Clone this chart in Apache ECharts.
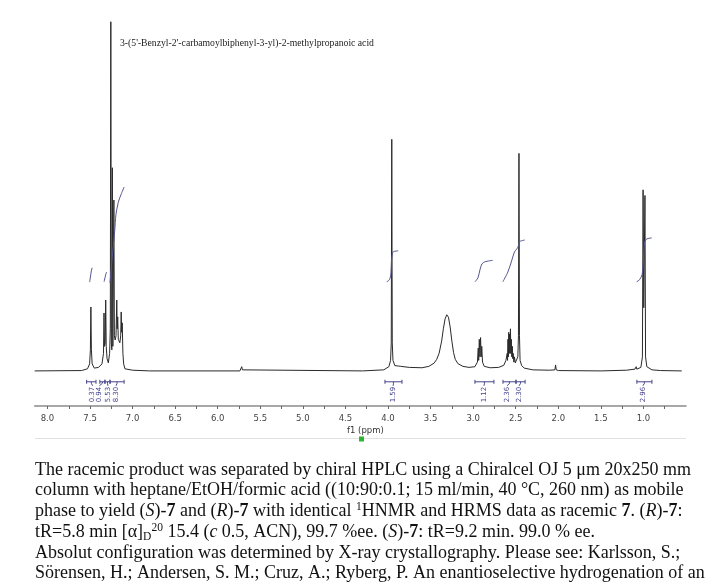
<!DOCTYPE html>
<html><head><meta charset="utf-8">
<script src="https://cdn.jsdelivr.net/npm/echarts@6/dist/echarts.min.js"></script>
<style>html,body{margin:0;padding:0;background:#fff}#c{width:719px;height:588px}</style>
</head><body><div id="c"></div>
<script>
// ---- data (ppm, intensity) ----
const spectrum = [
[8.15,0],[7.60,0.1],[7.53,0.6],[7.505,2],[7.496,6],[7.490,18.2],[7.484,6],[7.475,2],[7.45,0.8],[7.40,1.0],[7.36,2],
[7.342,5],[7.336,16.5],[7.330,7],[7.322,8],[7.316,20.2],[7.310,7],[7.30,3.5],[7.285,2.3],[7.27,5],[7.262,12],[7.256,99.5],
[7.250,8],[7.244,6],[7.238,57.9],[7.232,7],[7.226,6.5],[7.220,48.7],[7.214,10],[7.205,8.8],[7.195,10],[7.186,20.2],[7.181,12],
[7.175,15.4],[7.168,9],[7.150,8],[7.140,10],[7.134,16.8],[7.128,11],[7.122,13.7],[7.114,5],[7.105,2],[7.09,0.6],[7.0,0.2],
[6.8,0],[5.74,0],[5.725,0.3],[5.718,1.2],[5.711,0.3],[5.70,0],[4.3,0],[4.05,0.3],[3.99,1.2],[3.97,3],[3.962,8],[3.956,66],
[3.950,8],[3.942,3],[3.92,1.5],[3.88,1.4],[3.865,1.9],[3.85,1.3],[3.75,1.0],[3.6,0.9],[3.52,1.3],[3.46,2.2],[3.43,3.2],
[3.40,5.0],[3.37,8.5],[3.35,12],[3.33,14.8],[3.31,16],[3.29,15.3],[3.27,12.5],[3.25,8.5],[3.23,5.2],[3.21,3.3],[3.18,2.1],
[3.12,1.3],[3.05,1.0],[2.98,1.2],[2.95,2.5],[2.940,6.5],[2.935,3],[2.928,9],[2.920,4],[2.913,9.5],[2.906,4],[2.899,7],
[2.89,2.5],[2.87,1.3],[2.80,0.9],[2.70,1.0],[2.64,1.6],[2.615,3],[2.600,5],[2.596,3],[2.591,9],[2.586,4],[2.582,11],[2.577,5],
[2.573,10.5],[2.567,5],[2.562,12],[2.557,5],[2.552,9],[2.546,4],[2.540,7],[2.535,3.5],[2.530,5],[2.522,2.5],[2.515,4],
[2.505,2.3],[2.49,2.5],[2.475,4],[2.468,10],[2.462,62],[2.456,10],[2.449,3],[2.43,1.5],[2.40,0.8],[2.30,0.3],[2.10,0.2],
[2.04,0.3],[2.032,1.7],[2.024,0.3],[2.0,0.1],[1.5,0],[1.2,0.2],[1.10,0.5],[1.085,1.2],[1.078,0.5],[1.03,1],[1.012,4],
[1.004,51.6],[0.996,18],[0.990,18],[0.982,50],[0.975,4],[0.96,1.2],[0.90,0.3],[0.80,0.1],[0.55,0]
];
const integral1 = [[7.505,25.3],[7.497,26.5],[7.485,28.5],[7.475,29.4]];
const integral2 = [[7.335,25.4],[7.325,26.5],[7.315,27.5],[7.305,28.2]];
const integral3 = [[7.266,25.1],[7.250,29.5],[7.231,34.5],[7.210,40],[7.196,44.5],[7.175,47.3],[7.160,48.7],[7.137,50.2],[7.10,52.4]];
const integral4 = [[4.016,25.4],[3.990,25.8],[3.975,26.5],[3.965,28],[3.960,31],[3.950,33.3],[3.935,34.0],[3.88,34.2]];
const integral5 = [[2.979,25.4],[2.944,26.5],[2.920,28.8],[2.897,30.5],[2.862,31.1],[2.77,31.5]];
const integral6 = [[2.651,25.4],[2.592,28.2],[2.545,31.6],[2.515,33.9],[2.486,34.8],[2.469,35.6],[2.457,36.8],[2.428,37.1],[2.393,37.3]];
const integral7 = [[1.080,25.4],[1.045,26.0],[1.015,27.5],[1.004,30],[0.995,34],[0.985,36.8],[0.960,37.6],[0.903,37.9]];
// brackets: start ppm, end ppm, label ppm, label
const bracketStart = [7.54, 7.385, 7.325, 7.265, 4.036, 2.979, 2.650, 2.497, 1.077];
const bracketEnd   = [7.43, 7.325, 7.265, 7.100, 3.836, 2.756, 2.497, 2.390, 0.900];
const bracketLabelAt = [7.47, 7.39, 7.29, 7.195, 3.94, 2.873, 2.60, 2.46, 1.006];
const bracketLabels = ['0.37','0.94','5.53','8.30','1.59','1.12','2.36','2.30','2.96'];
const xTickLabels = ['8.0','7.5','7.0','6.5','6.0','5.5','5.0','4.5','4.0','3.5','3.0','2.5','2.0','1.5','1.0'];
const titleText = "3-(5'-Benzyl-2'-carbamoylbiphenyl-3-yl)-2-methylpropanoic acid";
const paragraphLines = [
 "The racemic product was separated by chiral HPLC using a Chiralcel OJ 5 μm 20x250 mm",
 "column with heptane/EtOH/formic acid ((10:90:0.1; 15 ml/min, 40 °C, 260 nm) as mobile",
 "phase to yield ({it|S})-{b|7} and ({it|R})-{b|7} with identical {sup|1}HNMR and HRMS data as racemic {b|7}. ({it|R})-{b|7}:",
 "tR=5.8 min [α]{sub|D}{sup|20} 15.4 ({it|c} 0.5, ACN), 99.7 %ee. ({it|S})-{b|7}: tR=9.2 min. 99.0 % ee.",
 "Absolut configuration was determined by X-ray crystallography. Please see: Karlsson, S.;",
 "Sörensen, H.; Andersen, S. M.; Cruz, A.; Ryberg, P. An enantioselective hydrogenation of an"
];

const INT_COLOR = '#55558e';
const BR_COLOR = '#45458e';
const SERIF = '"Liberation Serif","Times New Roman",serif';
const PFS = 18;
const LH = 21;

const chart = echarts.init(document.getElementById('c'), null, {renderer:'canvas'});

const bracketData = bracketStart.map((s,i)=>[s, bracketEnd[i], bracketLabelAt[i], i]);
const integrals = [integral1,integral2,integral3,integral4,integral5,integral6,integral7];

const rich = {
  it:{fontFamily:SERIF,fontSize:PFS,fontStyle:'italic',lineHeight:LH,fill:'#111'},
  b:{fontFamily:SERIF,fontSize:PFS,fontWeight:'bold',lineHeight:LH,fill:'#111'},
  sup:{fontFamily:SERIF,fontSize:11.5,lineHeight:11,verticalAlign:'top',fill:'#111'},
  sub:{fontFamily:SERIF,fontSize:11.5,lineHeight:11,verticalAlign:'bottom',fill:'#111'}
};
const lineTops = [459.5, 480.2, 500.9, 521.6, 542.3, 563];
const graphics = paragraphLines.map((t,i)=>({
  type:'text', left:35, top:lineTops[i],
  style:{text:t, rich:rich, fontFamily:SERIF, fontSize:PFS, lineHeight:LH, fill:'#111'}
}));
graphics.push({type:'text', left:120, top:38, style:{text:titleText, fontFamily:SERIF, fontSize:9.7, fill:'#222'}});
graphics.push({type:'text', left:347, top:426, style:{text:'f1 (ppm)', fontFamily:'"DejaVu Sans",sans-serif', fontSize:8.5, fill:'#333'}});
graphics.push({type:'line', shape:{x1:35,y1:438.5,x2:686,y2:438.5}, style:{stroke:'#e2e2e2', lineWidth:1}});
graphics.push({type:'rect', shape:{x:359,y:436.5,width:5,height:5}, style:{fill:'#2fb52f'}});

const series = [{
  type:'line', data:spectrum, showSymbol:false, symbol:'none',
  lineStyle:{color:'#2a2a2a', width:1}, z:3, animation:false
}];
integrals.forEach(d=>series.push({
  type:'line', data:d, showSymbol:false, symbol:'none', smooth:0.3,
  lineStyle:{color:INT_COLOR, width:1}, z:4, animation:false
}));
series.push({
  type:'custom', data:bracketData, z:5, animation:false,
  renderItem:function(params, api){
    const yv = -3.1;
    const s = api.coord([api.value(0), yv]);
    const e = api.coord([api.value(1), yv]);
    const lab = api.coord([api.value(2), yv]);
    const mid = (s[0]+e[0])/2;
    const y = s[1];
    const st = {stroke:BR_COLOR, lineWidth:1};
    return {type:'group', children:[
      {type:'line', shape:{x1:s[0],y1:y,x2:e[0],y2:y}, style:st},
      {type:'line', shape:{x1:s[0],y1:y-2,x2:s[0],y2:y+2}, style:st},
      {type:'line', shape:{x1:e[0],y1:y-2,x2:e[0],y2:y+2}, style:st},
      {type:'polyline', shape:{points:[[mid,y],[mid,y+1.5],[lab[0],y+4]]}, style:{stroke:BR_COLOR,lineWidth:1,fill:null}},
      {type:'text', x:lab[0], y:y+5, rotation:Math.PI/2,
       style:{text:bracketLabels[api.value(3)], align:'right', verticalAlign:'middle',
              fontFamily:'"DejaVu Sans",sans-serif', fontSize:7, fill:BR_COLOR}}
    ]};
  }
});

chart.setOption({
  animation:false,
  backgroundColor:'#fff',
  grid:{left:34.7, right:33, top:20, bottom:182},
  xAxis:{
    type:'value', inverse:true, min:0.5, max:8.15, interval:0.25,
    axisLine:{show:true, onZero:false, lineStyle:{color:'#8a8a8a', width:1.5}},
    axisTick:{show:true, length:3, inside:false, lineStyle:{color:'#666', width:1}},
    splitLine:{show:false},
    axisLabel:{
      margin:8, fontSize:8.5, fontFamily:'"DejaVu Sans",sans-serif', color:'#444',
      showMinLabel:false, showMaxLabel:false,
      formatter:function(v){
        if (Math.abs(v*2-Math.round(v*2))>1e-6) return '';
        const s = v.toFixed(1);
        return xTickLabels.indexOf(s)>=0 ? s : '';
      }
    }
  },
  yAxis:{type:'value', min:-10, max:100, show:false},
  series:series,
  graphic:graphics
});
</script></body></html>
